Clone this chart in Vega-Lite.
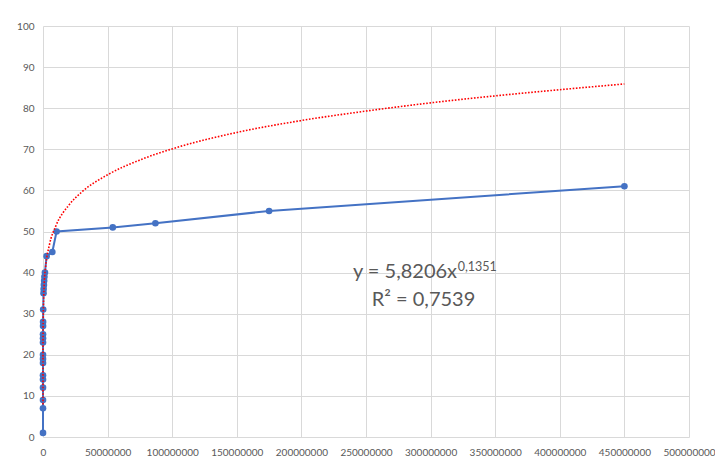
{
  "$schema": "https://vega.github.io/schema/vega-lite/v6.json",
  "autosize": {"type": "none"},
  "width": 646,
  "height": 411,
  "padding": {"left": 43, "top": 26, "right": 26, "bottom": 25},
  "background": "white",
  "config": {
    "view": {"stroke": null},
    "font": "Lato",
    "axis": {
      "grid": true, "gridColor": "#d9d9d9", "gridWidth": 1,
      "domain": false, "ticks": false,
      "labelColor": "#595959", "labelFont": "Lato", "labelFontSize": 10,
      "labelOverlap": false, "labelFlush": false,
      "title": null
    }
  },
  "datasets": {
    "series": [
      {"x": 1, "y": 1}, {"x": 10, "y": 7}, {"x": 20, "y": 9}, {"x": 50, "y": 12},
      {"x": 200, "y": 14}, {"x": 400, "y": 15}, {"x": 1000, "y": 18}, {"x": 2000, "y": 19},
      {"x": 3000, "y": 20}, {"x": 10000, "y": 23}, {"x": 15000, "y": 24}, {"x": 20000, "y": 25},
      {"x": 50000, "y": 27}, {"x": 70000, "y": 28}, {"x": 150000, "y": 31}, {"x": 400000, "y": 35},
      {"x": 500000, "y": 36}, {"x": 700000, "y": 37}, {"x": 900000, "y": 38}, {"x": 1100000, "y": 39},
      {"x": 1500000, "y": 40}, {"x": 2800000, "y": 44}, {"x": 7200000, "y": 45}, {"x": 10500000, "y": 50},
      {"x": 54000000, "y": 51}, {"x": 87000000, "y": 52}, {"x": 175000000, "y": 55}, {"x": 450000000, "y": 61}
    ],
    "trend": [
      {"x": 10, "y": 7.9}, {"x": 100, "y": 10.8}, {"x": 1000, "y": 14.8}, {"x": 10000, "y": 20.2},
      {"x": 100000, "y": 27.6}, {"x": 1000000, "y": 37.6}, {"x": 2000000, "y": 41.3}, {"x": 5000000, "y": 46.8},
      {"x": 10000000, "y": 51.4}, {"x": 20000000, "y": 56.4}, {"x": 30000000, "y": 59.6}, {"x": 50000000, "y": 63.8},
      {"x": 75000000, "y": 67.4}, {"x": 100000000, "y": 70.1}, {"x": 150000000, "y": 74.1}, {"x": 200000000, "y": 77.0},
      {"x": 250000000, "y": 79.3}, {"x": 300000000, "y": 81.3}, {"x": 350000000, "y": 83.0}, {"x": 400000000, "y": 84.5},
      {"x": 450000000, "y": 85.9}
    ],
    "labels": [
      {"x": 320500000, "y": 38.7, "t": "y = 5,8206x", "k": "main"},
      {"x": 321000000, "y": 40.4, "t": "0,1351", "k": "sup"},
      {"x": 294500000, "y": 31.9, "t": "R² = 0,7539", "k": "r2"}
    ]
  },
  "layer": [
    {
      "data": {"name": "series"},
      "mark": {"type": "line", "color": "#4472C4", "strokeWidth": 2, "point": {"filled": true, "size": 44, "color": "#4472C4", "opacity": 1}},
      "encoding": {
        "x": {"field": "x", "type": "quantitative",
              "scale": {"domain": [0, 500000000], "nice": false},
              "axis": {"values": [0, 50000000, 100000000, 150000000, 200000000, 250000000, 300000000, 350000000, 400000000, 450000000, 500000000], "format": "d", "labelPadding": 10}},
        "y": {"field": "y", "type": "quantitative",
              "scale": {"domain": [0, 100], "nice": false},
              "axis": {"values": [0, 10, 20, 30, 40, 50, 60, 70, 80, 90, 100], "labelPadding": 9}}
      }
    },
    {
      "data": {"name": "trend"},
      "mark": {"type": "line", "color": "#ff0000", "strokeWidth": 1.6, "strokeDash": [1.6, 1.6], "interpolate": "monotone"},
      "encoding": {
        "x": {"field": "x", "type": "quantitative"},
        "y": {"field": "y", "type": "quantitative"}
      }
    },
    {
      "data": {"name": "labels"},
      "transform": [{"filter": "datum.k == 'main'"}],
      "mark": {"type": "text", "align": "right", "baseline": "alphabetic", "fontSize": 20, "color": "#595959", "font": "Lato"},
      "encoding": {
        "x": {"field": "x", "type": "quantitative"},
        "y": {"field": "y", "type": "quantitative"},
        "text": {"field": "t"}
      }
    },
    {
      "data": {"name": "labels"},
      "transform": [{"filter": "datum.k == 'sup'"}],
      "mark": {"type": "text", "align": "left", "baseline": "alphabetic", "fontSize": 12.5, "color": "#595959", "font": "Lato"},
      "encoding": {
        "x": {"field": "x", "type": "quantitative"},
        "y": {"field": "y", "type": "quantitative"},
        "text": {"field": "t"}
      }
    },
    {
      "data": {"name": "labels"},
      "transform": [{"filter": "datum.k == 'r2'"}],
      "mark": {"type": "text", "align": "center", "baseline": "alphabetic", "fontSize": 20, "color": "#595959", "font": "Lato"},
      "encoding": {
        "x": {"field": "x", "type": "quantitative"},
        "y": {"field": "y", "type": "quantitative"},
        "text": {"field": "t"}
      }
    }
  ]
}
